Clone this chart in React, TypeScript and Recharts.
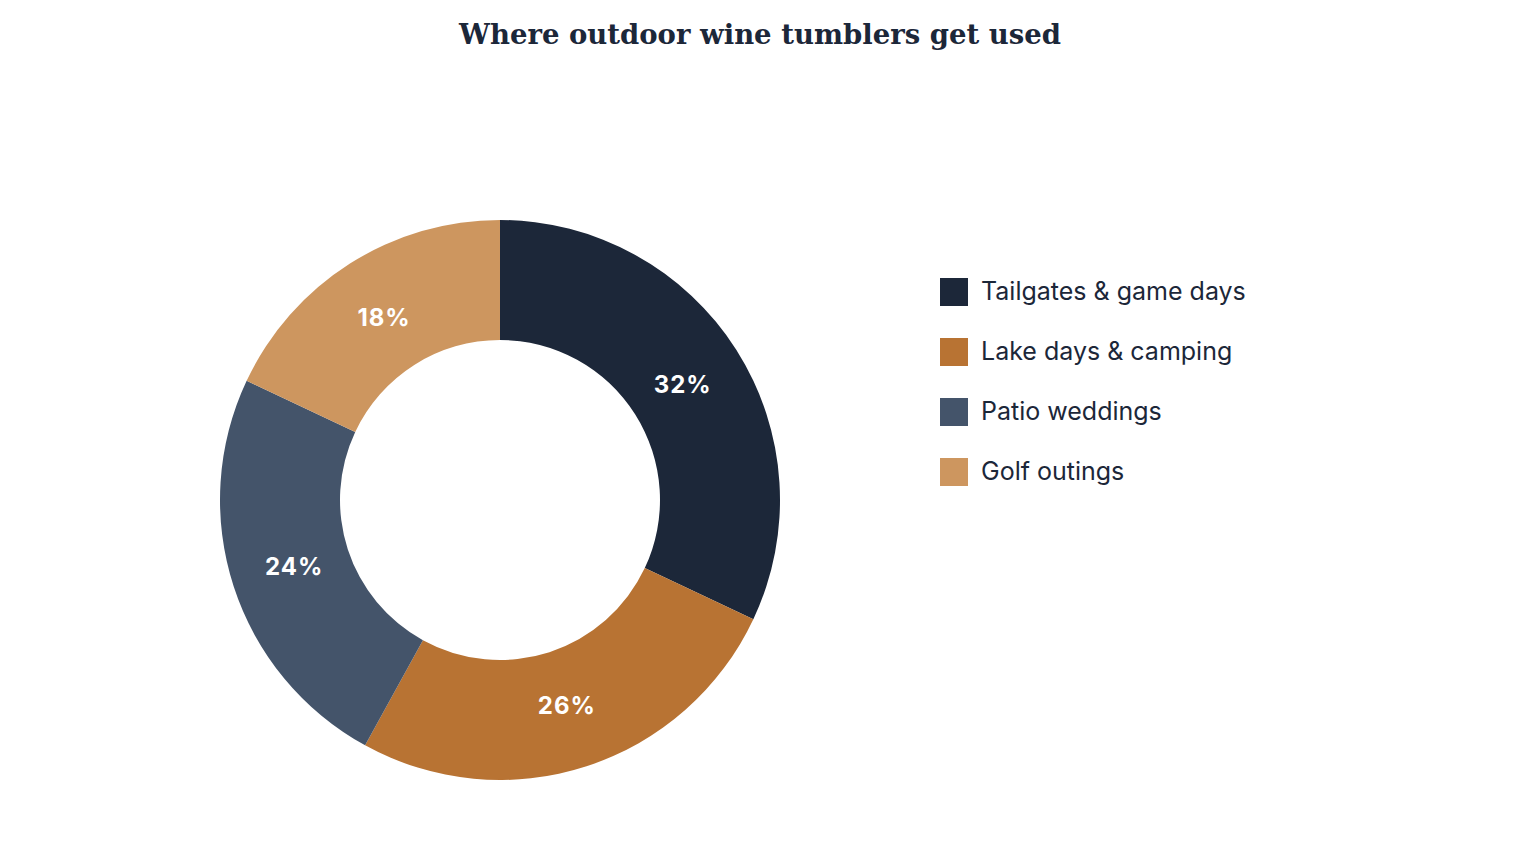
import React from "react";
import { PieChart, Pie, Cell, Legend } from "recharts";

const categories = ["Tailgates & game days", "Lake days & camping", "Patio weddings", "Golf outings"];
const shares = [32, 26, 24, 18];
const colors = ["#1c2739", "#b87333", "#44546a", "#cd965f"];

const data = categories.map((name, i) => ({ name, value: shares[i] }));

const RADIAN = Math.PI / 180;
const renderLabel = (props: any) => {
  const { cx, cy, midAngle, innerRadius, outerRadius, value } = props;
  const r = innerRadius + (outerRadius - innerRadius) * 0.47;
  const x = cx + r * Math.cos(-midAngle * RADIAN);
  const y = cy + r * Math.sin(-midAngle * RADIAN);
  return (
    <text
      x={x}
      y={y}
      fill="#ffffff"
      textAnchor="middle"
      dominantBaseline="central"
      style={{ fontFamily: "Inter, 'Noto Sans', sans-serif", fontWeight: 700, fontSize: 24, letterSpacing: 1 }}
    >
      {`${value}%`}
    </text>
  );
};

const renderLegend = () => (
  <div style={{ display: "flex", flexDirection: "column", gap: 32 }}>
    {data.map((d, i) => (
      <div key={d.name} style={{ display: "flex", alignItems: "center", height: 28 }}>
        <div style={{ width: 28, height: 28, background: colors[i], marginRight: 13, flexShrink: 0 }} />
        <span style={{ fontFamily: "Inter, 'Noto Sans', sans-serif", fontSize: 25, color: "#1c2739", whiteSpace: "nowrap", position: "relative", top: -1 }}>{d.name}</span>
      </div>
    ))}
  </div>
);

export default function App() {
  return (
    <div style={{ position: "absolute", left: 0, top: 0, width: 1520, height: 860, background: "#fff" }}>
      <div
        style={{
          position: "absolute",
          top: 18,
          left: 0,
          width: 1520,
          textAlign: "center",
          fontFamily: "'DejaVu Serif', Georgia, serif",
          fontWeight: 700,
          fontSize: 27.5,
          color: "#1c2739",
        }}
      >
        Where outdoor wine tumblers get used
      </div>
      <PieChart width={1520} height={860} margin={{ top: 0, right: 0, bottom: 0, left: 0 }}>
        <Pie
          data={data}
          dataKey="value"
          nameKey="name"
          cx={500}
          cy={500}
          innerRadius={160}
          outerRadius={280}
          startAngle={90}
          endAngle={-270}
          stroke="none"
          label={renderLabel}
          labelLine={false}
          isAnimationActive={false}
        >
          {data.map((d, i) => (
            <Cell key={d.name} fill={colors[i]} />
          ))}
        </Pie>
        <Legend
          content={renderLegend}
          wrapperStyle={{ position: "absolute", left: 940, top: 278, width: 400 }}
        />
      </PieChart>
    </div>
  );
}
